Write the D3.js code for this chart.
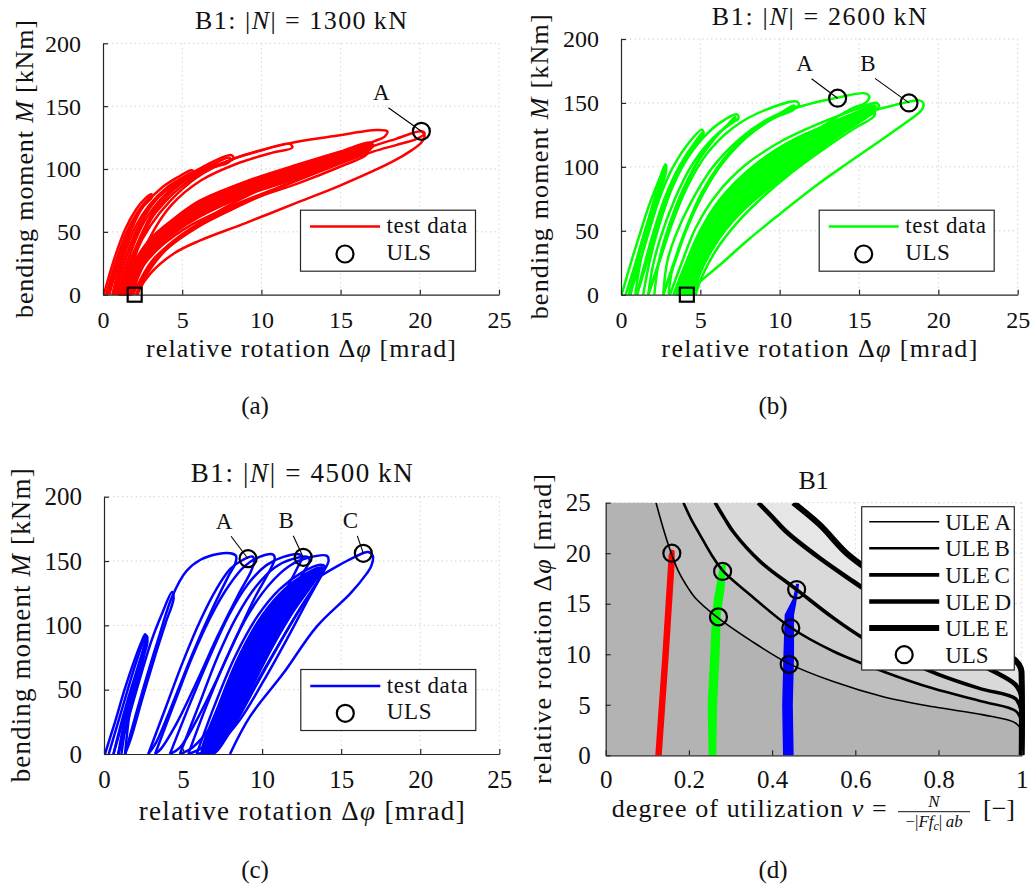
<!DOCTYPE html>
<html>
<head>
<meta charset="utf-8">
<script src="https://cdn.jsdelivr.net/npm/d3@7"></script>
<style>
  body { margin: 0; background: #fff; }
  svg text { font-family: "Liberation Serif", "Times New Roman", serif; fill: #111; }
  .grid { stroke: #d4d4d4; stroke-width: 1; stroke-dasharray: 1.5 3; }
</style>
</head>
<body>
<svg id="fig" width="1030" height="890"></svg>
<script>
'use strict';

// ---- ticks ----
const rotTicks = [0, 5, 10, 15, 20, 25];
const momentTicks = [0, 50, 100, 150, 200];
const nuTicks = [0, 0.2, 0.4, 0.6, 0.8, 1];
const nuTickLabels = ["0", "0.2", "0.4", "0.6", "0.8", "1"];
const phiTicks = [0, 5, 10, 15, 20, 25];

// ---- |N| = 1300 kN : loops [rotation mrad, moment kNm] ----
const loops1300 = [
  [[0.05,0],[0.7,28],[1.4,52],[2.1,68],[2.7,77],[3.05,80],[3.05,77],[2.4,69],[1.6,48],[0.9,22],[0.4,0]],
  [[0.2,0],[0.8,26],[1.5,50],[2.2,66],[2.9,77],[3.0,78],[2.6,72],[1.8,52],[1.1,26],[0.6,0]],
  [[0.3,0],[1.0,30],[1.7,54],[2.6,71],[3.8,86],[4.8,94],[5.6,99],[5.75,97],[4.9,91],[3.4,77],[2.3,56],[1.4,27],[0.8,0]],
  [[0.6,0],[1.3,30],[2.0,53],[2.9,71],[4.0,85],[5.0,93],[5.6,97],[5.5,94],[4.4,87],[3.1,72],[2.2,50],[1.5,24],[1.0,0]],
  [[0.7,0],[1.5,32],[2.3,56],[3.4,76],[4.6,89],[6.2,101],[8.1,111],[8.25,108],[7.1,103],[5.3,93],[3.7,76],[2.5,50],[1.6,18],[1.2,0]],
  [[0.9,0],[1.7,32],[2.6,58],[3.8,78],[5.3,93],[6.8,103],[8.0,109],[8.0,106],[6.7,100],[4.9,88],[3.4,68],[2.3,40],[1.6,12],[1.4,0]],
  [[1.0,0],[1.9,33],[2.8,56],[4.0,75],[5.6,92],[7.8,106],[9.8,114],[11.8,120],[11.95,117],[10.7,113],[8.4,104],[6.2,91],[4.3,71],[2.9,44],[1.9,12],[1.6,0]],
  [[1.1,0],[2.0,32],[3.0,55],[4.2,74],[5.9,93],[8.2,108],[11.6,120],[14.5,126],[17.3,131],[17.95,130],[17.8,126],[17.1,122],[16.2,117],[13.5,103],[10.5,87],[7.5,68],[5.0,47],[3.2,25],[2.1,0]],
  [[1.0,0],[2.0,26],[3.0,43],[4.5,59],[6.1,74],[9.0,90],[12.4,104],[15.0,114],[16.9,121],[17.05,118],[15.6,110],[12.4,95],[9.0,79],[6.1,62],[4.5,49],[3.0,32],[2.0,12],[1.6,0]],
  [[1.3,0],[2.2,24],[3.3,41],[4.8,56],[6.5,70],[9.4,86],[12.6,100],[15.2,111],[16.8,119],[16.9,116],[15.5,108],[12.6,93],[9.4,76],[6.5,59],[4.6,44],[3.1,27],[2.2,8],[1.9,0]],
  [[1.5,0],[2.5,25],[3.6,42],[5.0,56],[7.0,70],[10.0,85],[13.0,98],[15.5,108],[16.7,114],[16.6,111],[15.0,102],[12.4,89],[9.0,74],[6.1,57],[4.0,38],[2.8,20],[2.1,0]],
  [[1.6,0],[2.6,24],[3.8,40],[5.5,55],[8.0,70],[11.0,85],[14.0,100],[16.6,116],[18.5,124],[20.1,130],[20.3,128],[19.8,124],[18.5,119],[17.1,114],[14.5,102],[11.5,87],[8.5,70],[6.0,54],[4.0,36],[2.7,15],[2.1,0]],
  [[20.1,130],[20.3,127],[20.1,121],[19.5,115],[18.3,106],[15.0,87],[12.4,74],[9.0,57],[6.1,43],[4.5,33],[3.0,17],[2.3,4],[2.2,0]]
];
const band1300 = [[1.0,0],[2.0,27],[3.0,45],[4.5,61],[6.1,75],[9.0,90],[12.4,103],[15.0,113],[16.8,120],[17.0,118],
  [16.4,113],[15.0,106],[12.4,93],[9.0,79],[6.1,63],[4.5,50],[3.0,33],[2.2,13],[1.8,0]];
const uls1300 = [[20.1,130]];
const ulsNames1300 = ["A"];
const residual1300 = [2.0, 0];

// ---- |N| = 2600 kN ----
const loops2600 = [
  [[0.04,0],[0.6,24],[1.2,48],[1.8,71],[2.4,90],[2.8,102],[2.85,99],[2.4,86],[1.8,62],[1.1,32],[0.5,0]],
  [[0.3,0],[0.9,24],[1.5,49],[2.1,72],[2.55,90],[2.75,99],[2.7,95],[2.2,78],[1.6,52],[1.0,24],[0.6,0]],
  [[0.57,0],[1.2,26],[1.8,51],[2.3,72],[2.7,90],[2.85,98],[2.8,94],[2.3,76],[1.7,50],[1.2,24],[0.9,0]],
  [[0.57,0],[1.2,27],[1.8,52],[2.5,78],[3.2,98],[4.1,116],[5.1,129],[5.2,126],[4.6,118],[3.7,101],[2.8,77],[2.0,47],[1.4,20],[1.0,0]],
  [[1.0,0],[1.6,25],[2.2,50],[2.9,76],[3.7,99],[4.5,116],[5.15,127],[5.15,124],[4.4,113],[3.5,93],[2.7,66],[2.1,41],[1.7,20],[1.4,0]],
  [[1.0,0],[1.6,24],[2.3,52],[3.1,80],[4.0,103],[5.2,123],[6.3,135],[7.3,141],[7.4,138],[6.8,133],[5.6,120],[4.4,100],[3.4,75],[2.5,45],[2.0,22],[1.72,0]],
  [[1.72,0],[2.4,26],[3.1,53],[3.9,80],[4.8,103],[5.9,122],[6.8,134],[7.2,139],[7.15,136],[6.2,127],[5.0,108],[3.9,82],[3.0,53],[2.4,27],[2.1,0]],
  [[1.72,0],[2.4,25],[3.2,55],[4.2,85],[5.4,110],[7.0,130],[9.0,144],[11.1,151],[11.2,148],[10.6,145],[9.2,137],[7.5,122],[5.8,100],[4.4,72],[3.4,45],[2.9,25],[2.66,0]],
  [[2.66,0],[3.3,24],[4.1,52],[5.1,80],[6.4,105],[8.0,126],[9.8,140],[10.9,148],[10.9,145],[9.6,138],[7.8,122],[6.1,98],[4.8,70],[3.8,42],[3.2,18],[3.0,0]],
  [[2.66,0],[3.3,22],[4.1,50],[5.2,80],[6.7,108],[8.6,130],[10.8,145],[13.6,154],[15.4,157.5],[15.65,155],[15.4,150],[14.6,146],[12.6,131],[10.5,113],[8.5,92],[6.6,66],[5.1,39],[4.1,16],[3.6,0]],
  [[3.09,0],[3.8,24],[4.7,52],[6.0,78],[7.8,101],[10.1,120],[12.7,135],[14.8,145],[16.1,150],[16.25,147],[15.5,139],[13.8,125],[11.5,104],[9.3,83],[7.5,64],[6.0,42],[5.0,20],[4.5,0]],
  [[3.3,0],[4.0,22],[4.9,48],[6.2,74],[8.0,97],[10.3,117],[12.8,132],[14.9,143],[16.0,148],[16.0,145],[15.1,137],[13.3,122],[11.0,101],[8.9,80],[7.2,60],[5.8,38],[4.9,16],[4.5,0]],
  [[3.6,0],[4.3,22],[5.2,48],[6.6,74],[8.4,96],[10.6,115],[13.0,130],[15.0,141],[15.9,146],[15.9,143],[14.8,134],[12.8,118],[10.6,98],[8.7,78],[7.0,57],[5.7,36],[4.9,15],[4.6,0]],
  [[3.9,0],[4.6,22],[5.6,48],[7.0,72],[8.8,93],[11.0,112],[13.3,127],[15.2,138],[16.0,142],[15.9,139],[14.7,130],[12.9,115],[10.8,96],[8.9,76],[7.3,56],[6.0,35],[5.1,14],[4.7,0]],
  [[3.6,0],[4.3,25],[5.3,55],[6.8,82],[8.8,105],[11.0,122],[14.3,138],[16.5,146],[17.8,150],[18.8,152],[19.05,150],[18.95,144.5],[18.0,135],[16.4,121],[14.3,103],[12.2,84.5],[10.0,63],[8.0,42.8],[6.3,24],[4.66,6.3],[4.4,0]]
];
const band2600 = [[3.5,0],[4.2,24],[5.1,50],[6.4,75],[8.2,98],[10.4,117],[12.8,132],[14.7,142],[15.9,148],[16.0,146],
  [15.4,140],[13.7,127],[11.8,111],[9.9,92],[8.2,73],[6.8,54],[5.7,34],[4.9,14],[4.5,0]];
const uls2600 = [[13.65,153.7],[18.15,150]];
const ulsNames2600 = ["A", "B"];
const residual2600 = [4.15, 0];

// ---- |N| = 4500 kN ----
const loops4500 = [
  [[0.06,0],[0.7,25],[1.3,50],[1.9,72],[2.4,88],[2.6,93],[2.65,89],[2.2,70],[1.5,42],[0.9,15],[0.6,0]],
  [[0.3,0],[0.9,25],[1.5,50],[2.0,70],[2.45,86],[2.7,92],[2.7,88],[2.3,72],[1.7,46],[1.2,20],[0.9,0]],
  [[0.6,0],[1.2,26],[1.7,47],[2.2,68],[2.55,84],[2.75,91],[2.7,86],[2.3,70],[1.8,48],[1.4,24],[1.1,0]],
  [[0.9,0],[1.4,22],[1.9,45],[2.3,64],[2.6,80],[2.75,88],[2.7,84],[2.3,68],[1.9,50],[1.6,30],[1.33,0]],
  [[0.9,0],[1.6,30],[2.3,60],[3.0,88],[3.7,110],[4.3,126],[4.4,121],[3.9,102],[3.2,75],[2.4,42],[1.7,12],[1.33,0]],
  [[1.33,0],[2.0,30],[2.7,60],[3.5,92],[4.3,122],[5.2,142],[6.1,151],[7.2,155.5],[8.0,156],[8.35,154],[8.3,148],[7.9,139],[6.9,114],[5.6,78],[4.3,38],[3.3,9],[2.8,0]],
  [[2.8,0],[3.9,36],[5.0,72],[6.1,104],[7.1,128],[8.0,144],[8.8,151],[9.4,153.5],[9.5,150],[9.3,142],[8.5,124],[7.2,92],[5.9,57],[4.6,24],[3.6,4],[3.23,0]],
  [[3.23,0],[4.4,38],[5.6,76],[6.8,108],[7.9,131],[8.9,146],[9.8,153],[10.7,155],[10.8,152],[10.5,143],[9.6,123],[8.4,92],[7.1,57],[5.8,25],[4.8,5],[4.17,0]],
  [[4.17,0],[5.4,38],[6.7,76],[7.9,108],[9.1,132],[10.3,147],[11.3,153],[12.4,155],[12.5,152],[12.2,144],[11.4,125],[10.1,94],[8.6,58],[7.0,25],[5.6,5],[4.8,0]],
  [[4.8,0],[6.0,38],[7.2,76],[8.4,107],[9.6,130],[10.8,145],[11.9,151.5],[12.9,153],[13.0,150],[12.6,141],[11.8,123],[10.5,93],[9.1,58],[7.6,26],[6.2,5],[5.33,0]],
  [[5.33,0],[6.5,38],[7.8,76],[9.1,108],[10.4,131],[11.7,146],[12.9,152.5],[14.1,154],[14.2,150],[13.8,140],[12.9,120],[11.6,90],[10.1,57],[8.5,25],[6.9,4],[5.86,0]],
  [[5.86,0],[7.0,38],[8.3,76],[9.7,107],[11.1,128],[12.5,141],[13.6,147],[13.95,146],[13.6,136],[12.6,117],[11.2,88],[9.7,55],[8.2,22],[7.1,4],[6.4,0]],
  [[6.4,0],[7.5,38],[8.8,76],[10.2,106],[11.6,127],[12.9,139],[13.7,143],[13.75,140],[13.3,130],[12.3,111],[10.9,82],[9.4,50],[8.0,18],[7.2,3],[6.9,0]],
  [[6.9,0],[8.0,36],[9.3,74],[10.8,105],[12.3,126],[13.66,138],[14.9,147],[15.9,153.5],[16.7,157],[17.0,154],[16.9,146],[16.6,140],[15.6,125],[13.45,99],[11.34,62.7],[9.23,29],[7.97,0]]
];
const band4500 = [[6.2,0],[7.3,40],[8.6,78],[10.0,108],[11.4,128],[12.7,140],[13.6,145],[13.85,145],
  [13.7,141],[13.1,130],[12.0,111],[10.7,84],[9.4,53],[8.1,23],[7.2,5],[6.7,0]];
const uls4500 = [[9.11,151.8],[12.6,152.9],[16.4,156]];
const ulsNames4500 = ["A", "B", "C"];

// ---- panel (d): ultimate limit envelopes [nu, rotation mrad] ----
const uleNames = ["ULE\u2009A", "ULE\u2009B", "ULE\u2009C", "ULE\u2009D", "ULE\u2009E"];
const uleA = [[0.121,25],[0.138,22.5],[0.155,20.3],[0.175,18.2],[0.199,16.5],[0.215,15.6],[0.267,13.7],[0.347,11.4],[0.439,9.1],[0.547,7.3],[0.667,5.8],[0.788,4.8],[0.908,4.0],[0.985,3.2],[0.998,2.5],[1,0]];
const uleB = [[0.187,25],[0.205,23.4],[0.227,21.8],[0.255,19.8],[0.283,18.2],[0.347,15.9],[0.443,12.7],[0.547,10.3],[0.667,8.3],[0.788,6.6],[0.908,5.3],[0.985,4.4],[0.998,3.5],[1,0]];
const uleC = [[0.263,25],[0.285,23.5],[0.307,22.1],[0.371,19.2],[0.459,16.4],[0.547,13.6],[0.619,11.6],[0.7,9.8],[0.8,8.0],[0.9,6.6],[0.985,5.6],[0.998,4.5],[1,0]];
const uleD = [[0.367,25],[0.4,23.6],[0.435,22.1],[0.515,19.5],[0.595,17.2],[0.68,14.8],[0.76,12.5],[0.84,10.4],[0.92,8.6],[0.985,7.0],[0.998,6.0],[1,0]];
const uleE = [[0.451,25],[0.515,22.8],[0.579,20.0],[0.65,17.8],[0.72,15.8],[0.8,13.9],[0.88,12.0],[0.95,10.3],[0.985,9.4],[0.998,8.6],[1,7.5],[1,0]];
const bandRed = [[0.121,0],[0.138,10],[0.153,19.8],[0.158,20.3],[0.164,20.2],[0.164,19],[0.150,10],[0.133,0]];
const bandGreen = [[0.249,0],[0.247,5],[0.253,10],[0.258,14],[0.262,15.5],[0.276,18.7],[0.287,18.9],[0.284,16.5],[0.275,14],[0.272,10],[0.266,5],[0.264,0]];
const bandBlue = [[0.428,0],[0.426,5],[0.429,10],[0.432,13.9],[0.452,15.5],[0.459,16.9],[0.463,16.9],[0.456,15],[0.451,13.9],[0.451,10],[0.448,5],[0.45,0]];
const ulsUtil = [[0.159,20.0],[0.281,18.2],[0.271,13.7],[0.459,16.4],[0.445,12.6],[0.441,9.0]];

const AXIS = "#262626";
const svg = d3.select("#fig");

/**
 * Texte avec morceaux en italique : parts = [[texte, italique?], ...]
 */
function richText(g, x, y, parts, size) {
  const t = g.append("text").attr("x", x).attr("y", y).attr("font-size", size);
  parts.forEach(([s, it]) => {
    t.append("tspan").attr("font-style", it ? "italic" : null).text(s);
  });
  return t;
}

function styleAxis(a, fs) {
  a.attr("font-size", fs).attr("font-family", null);
  a.selectAll(".tick line, .domain").attr("stroke", AXIS).attr("stroke-width", 1.2);
}

/**
 * Panneau moment-rotation
 */
function hystPanel(p) {
  const g = svg.append("g");
  const x = d3.scaleLinear().domain([0, 25]).range([p.left, p.right]);
  const y = d3.scaleLinear().domain([0, 200]).range([p.bottom, p.top]);

  g.append("g").selectAll("line").data(rotTicks.slice(1)).join("line")
    .attr("class", "grid")
    .attr("x1", d => x(d)).attr("x2", d => x(d)).attr("y1", p.top).attr("y2", p.bottom);
  g.append("g").selectAll("line").data(momentTicks.slice(1)).join("line")
    .attr("class", "grid")
    .attr("x1", p.left).attr("x2", p.right).attr("y1", d => y(d)).attr("y2", d => y(d));

  const clipId = "clip-" + p.id;
  g.append("clipPath").attr("id", clipId).append("rect")
    .attr("x", p.left).attr("y", p.top - 20)
    .attr("width", p.right - p.left).attr("height", p.bottom - p.top + 21);

  const plot = g.append("g").attr("clip-path", `url(#${clipId})`);
  const line = d3.line().x(d => x(d[0])).y(d => y(d[1])).curve(d3.curveCatmullRom.alpha(0.5));
  const closed = d3.line().x(d => x(d[0])).y(d => y(d[1])).curve(d3.curveCatmullRomClosed.alpha(0.5));

  plot.append("path").datum(p.band).attr("d", closed)
    .attr("fill", p.color).attr("stroke", p.color).attr("stroke-width", 2);
  plot.selectAll("path.loop").data(p.loops).join("path")
    .attr("class", "loop").attr("d", line)
    .attr("fill", "none").attr("stroke", p.color).attr("stroke-width", 2.5)
    .attr("stroke-linejoin", "round");

  // axes
  const ax = g.append("g").attr("transform", `translate(0,${p.bottom})`)
    .call(d3.axisBottom(x).tickValues(rotTicks).tickSize(-5).tickSizeOuter(0).tickPadding(0));
  ax.selectAll("text").attr("dy", null).attr("y", p.tickY - p.bottom);
  const ay = g.append("g").attr("transform", `translate(${p.left},0)`)
    .call(d3.axisLeft(y).tickValues(momentTicks).tickSize(-5).tickSizeOuter(0).tickPadding(22));
  ay.selectAll("text").attr("dy", "0.33em");
  styleAxis(ax, p.fs);
  styleAxis(ay, p.fs);

  // residual marker
  if (p.square) {
    g.append("rect")
      .attr("x", x(p.square[0]) - 7).attr("y", y(p.square[1]) - 7)
      .attr("width", 14).attr("height", 14)
      .attr("fill", "none").attr("stroke", "#000").attr("stroke-width", 2.2);
  }

  // ULS points with labels
  p.uls.forEach((d, i) => {
    const cx = x(d[0]), cy = y(d[1]);
    const lx = cx + p.labelOff[i][0], ly = cy + p.labelOff[i][1];
    g.append("line").attr("x1", lx + 7).attr("y1", ly + 15.5).attr("x2", cx).attr("y2", cy)
      .attr("stroke", "#000").attr("stroke-width", 1.1);
    g.append("circle").attr("cx", cx).attr("cy", cy).attr("r", 8.5)
      .attr("fill", "none").attr("stroke", "#000").attr("stroke-width", 2.2);
    g.append("text").attr("x", lx).attr("y", ly + 8).attr("text-anchor", "middle")
      .attr("font-size", 23).text(p.names[i]);
  });

  // legend
  const bw = 175, bh = 61;
  const bx = p.right - 23.5 - bw, by = p.bottom - 23.5 - bh;
  g.append("rect").attr("x", bx).attr("y", by).attr("width", bw).attr("height", bh)
    .attr("fill", "#fff").attr("stroke", AXIS).attr("stroke-width", 1.2);
  g.append("line").attr("x1", bx + 9.5).attr("x2", bx + 79.5).attr("y1", by + 16.4).attr("y2", by + 16.4)
    .attr("stroke", p.color).attr("stroke-width", 2.5);
  g.append("text").attr("x", bx + 86).attr("y", by + 23).attr("font-size", 23)
    .attr("letter-spacing", 0.6).text("test data");
  g.append("circle").attr("cx", bx + 44.5).attr("cy", by + 43.8).attr("r", 8.5)
    .attr("fill", "none").attr("stroke", "#000").attr("stroke-width", 2.2);
  g.append("text").attr("x", bx + 86).attr("y", by + 49.5).attr("font-size", 23)
    .attr("letter-spacing", 0.6).text("ULS");

  // titles and labels
  const cxm = (p.left + p.right) / 2, cym = (p.top + p.bottom) / 2;
  richText(g, cxm, p.titleY, [["B1:  |", false], ["N", true], ["| = " + p.N + "\u2009kN", false]], p.fs + 2)
    .attr("text-anchor", "middle").attr("textLength", p.titleW).attr("lengthAdjust", "spacing");
  richText(g, cxm, p.xlabY, [["relative rotation \u0394", false], ["\u03c6", true], [" [mrad]", false]], p.fs + 2)
    .attr("text-anchor", "middle").attr("textLength", p.xlabW).attr("lengthAdjust", "spacing");
  richText(g, 0, 0, [["bending moment ", false], ["M", true], [" [kNm]", false]], p.fs + 2)
    .attr("text-anchor", "middle").attr("transform", `translate(${p.ylabX},${cym}) rotate(-90)`)
    .attr("textLength", p.ylabW).attr("lengthAdjust", "spacing");
  g.append("text").attr("x", p.capX).attr("y", p.capY).attr("text-anchor", "middle")
    .attr("font-size", 25).text(p.cap);
}

/**
 * Panneau degré d'utilisation / rotation
 */
function ulePanel() {
  const L = 605.7, R = 1021.7, T = 502.7, B = 755.3;
  const x = d3.scaleLinear().domain([0, 1]).range([L, R]);
  const y = d3.scaleLinear().domain([0, 25]).range([B, T]);
  const g = svg.append("g");

  g.append("g").selectAll("line").data(nuTicks.slice(1)).join("line")
    .attr("class", "grid")
    .attr("x1", d => x(d)).attr("x2", d => x(d)).attr("y1", T).attr("y2", B);
  g.append("g").selectAll("line").data(phiTicks.slice(1)).join("line")
    .attr("class", "grid")
    .attr("x1", L).attr("x2", R).attr("y1", d => y(d)).attr("y2", d => y(d));

  g.append("clipPath").attr("id", "clip-d").append("rect")
    .attr("x", L).attr("y", T).attr("width", R - L + 8).attr("height", B - T);
  const plot = g.append("g").attr("clip-path", "url(#clip-d)");

  const curve = d3.line().x(d => x(d[0])).y(d => y(d[1])).curve(d3.curveCatmullRom.alpha(0.5));
  const poly = d3.line().x(d => x(d[0])).y(d => y(d[1])).curve(d3.curveLinearClosed);
  const ules = [uleA, uleB, uleC, uleD, uleE];
  const shades = ["#b3b3b3", "#bfbfbf", "#cccccc", "#d9d9d9", "#e6e6e6"];
  const widths = [1.6, 2.6, 3.6, 4.6, 6];

  // zones sous chaque courbe, de la plus claire a la plus sombre
  for (let i = ules.length - 1; i >= 0; i--) {
    plot.append("path")
      .attr("d", `M${x(0)},${y(0)}L${x(0)},${y(25)}L` + curve(ules[i]).slice(1) + "Z")
      .attr("fill", shades[i]);
  }

  [[bandRed, "#ff0000"], [bandGreen, "#00ff00"], [bandBlue, "#0000ff"]].forEach(([b, c]) => {
    plot.append("path").attr("d", poly(b))
      .attr("fill", c).attr("stroke", c).attr("stroke-width", 1.5).attr("stroke-linejoin", "round");
  });

  plot.selectAll("path.ule").data(ules).join("path")
    .attr("class", "ule").attr("d", curve)
    .attr("fill", "none").attr("stroke", "#000")
    .attr("stroke-width", (d, i) => widths[i]).attr("stroke-linejoin", "round");

  g.selectAll("circle.uls").data(ulsUtil).join("circle")
    .attr("class", "uls")
    .attr("cx", d => x(d[0])).attr("cy", d => y(d[1])).attr("r", 8.5)
    .attr("fill", "none").attr("stroke", "#000").attr("stroke-width", 2.2);

  const ax = g.append("g").attr("transform", `translate(0,${B})`)
    .call(d3.axisBottom(x).tickValues(nuTicks).tickFormat((d, i) => nuTickLabels[i])
      .tickSize(-5).tickSizeOuter(0).tickPadding(0));
  ax.selectAll("text").attr("dy", null).attr("y", 788 - B);
  const ay = g.append("g").attr("transform", `translate(${L},0)`)
    .call(d3.axisLeft(y).tickValues(phiTicks).tickSize(-5).tickSizeOuter(0).tickPadding(15));
  ay.selectAll("text").attr("dy", "0.33em");
  styleAxis(ax, 25);
  styleAxis(ay, 25);

  // legend
  const lx = 861.7, ly = 506.7;
  g.append("rect").attr("x", lx).attr("y", ly).attr("width", 152.6).attr("height", 163.3)
    .attr("fill", "#fff").attr("stroke", AXIS).attr("stroke-width", 1.2);
  uleNames.forEach((n, i) => {
    const yy = ly + 15 + i * 26.6;
    g.append("line").attr("x1", lx + 7.5).attr("x2", lx + 77.5).attr("y1", yy).attr("y2", yy)
      .attr("stroke", "#000").attr("stroke-width", widths[i]);
    g.append("text").attr("x", lx + 83.5).attr("y", yy + 8).attr("font-size", 23).text(n);
  });
  g.append("circle").attr("cx", lx + 42.5).attr("cy", ly + 148).attr("r", 8.5)
    .attr("fill", "none").attr("stroke", "#000").attr("stroke-width", 2.2);
  g.append("text").attr("x", lx + 83.5).attr("y", ly + 156).attr("font-size", 23).text("ULS");

  // labels
  g.append("text").attr("x", (L + R) / 2).attr("y", 489.3).attr("text-anchor", "middle")
    .attr("font-size", 26).text("B1");
  richText(g, 0, 0, [["relative rotation \u0394", false], ["\u03c6", true], [" [mrad]", false]], 26)
    .attr("text-anchor", "middle").attr("transform", `translate(551,${(T + B) / 2}) rotate(-90)`)
    .attr("textLength", 310).attr("lengthAdjust", "spacing");
  richText(g, 611.7, 816.7, [["degree of utilization ", false], ["\u03bd", true], [" =", false]], 26)
    .attr("textLength", 275).attr("lengthAdjust", "spacing");
  richText(g, 934, 807, [["N", true]], 17).attr("text-anchor", "middle");
  g.append("line").attr("x1", 898).attr("x2", 970).attr("y1", 811.7).attr("y2", 811.7)
    .attr("stroke", "#111").attr("stroke-width", 1);
  const den = g.append("text").attr("x", 934).attr("y", 827).attr("font-size", 17)
    .attr("text-anchor", "middle");
  den.append("tspan").text("\u2212|");
  den.append("tspan").attr("font-style", "italic").text("Ff");
  den.append("tspan").attr("font-style", "italic").attr("font-size", 12).attr("dy", 3).text("c");
  den.append("tspan").attr("dy", -3).text("|\u2009");
  den.append("tspan").attr("font-style", "italic").text("ab");
  g.append("text").attr("x", 1015).attr("y", 816.7).attr("text-anchor", "end")
    .attr("font-size", 26).text("[\u2212]");
  g.append("text").attr("x", 773).attr("y", 878).attr("text-anchor", "middle")
    .attr("font-size", 25).text("(d)");
}

hystPanel({
  id: "a", left: 103, right: 499, top: 43.3, bottom: 294.7, fs: 24,
  loops: loops1300, band: band1300, uls: uls1300, names: ulsNames1300, square: residual1300,
  color: "#ff0000", N: "1300", labelOff: [[-40, -39]],
  titleY: 29, titleW: 212, xlabY: 357, xlabW: 310, ylabX: 33, ylabW: 298, tickY: 328,
  capX: 255, capY: 414, cap: "(a)"
});
hystPanel({
  id: "b", left: 621, right: 1017.7, top: 39, bottom: 294.7, fs: 24,
  loops: loops2600, band: band2600, uls: uls2600, names: ulsNames2600, square: residual2600,
  color: "#00ff00", N: "2600", labelOff: [[-33, -35], [-41, -40]],
  titleY: 25, titleW: 215, xlabY: 357, xlabW: 316, ylabX: 548, ylabW: 305, tickY: 328,
  capX: 773, capY: 414, cap: "(b)"
});
hystPanel({
  id: "c", left: 104, right: 499.3, top: 496.7, bottom: 754, fs: 25,
  loops: loops4500, band: band4500, uls: uls4500, names: ulsNames4500, square: null,
  color: "#0000ff", N: "4500", labelOff: [[-24, -38], [-17, -37], [-13, -33]],
  titleY: 481.7, titleW: 222, xlabY: 820, xlabW: 326, ylabX: 30, ylabW: 314, tickY: 788,
  capX: 255, capY: 878, cap: "(c)"
});
ulePanel();
</script>
</body>
</html>
